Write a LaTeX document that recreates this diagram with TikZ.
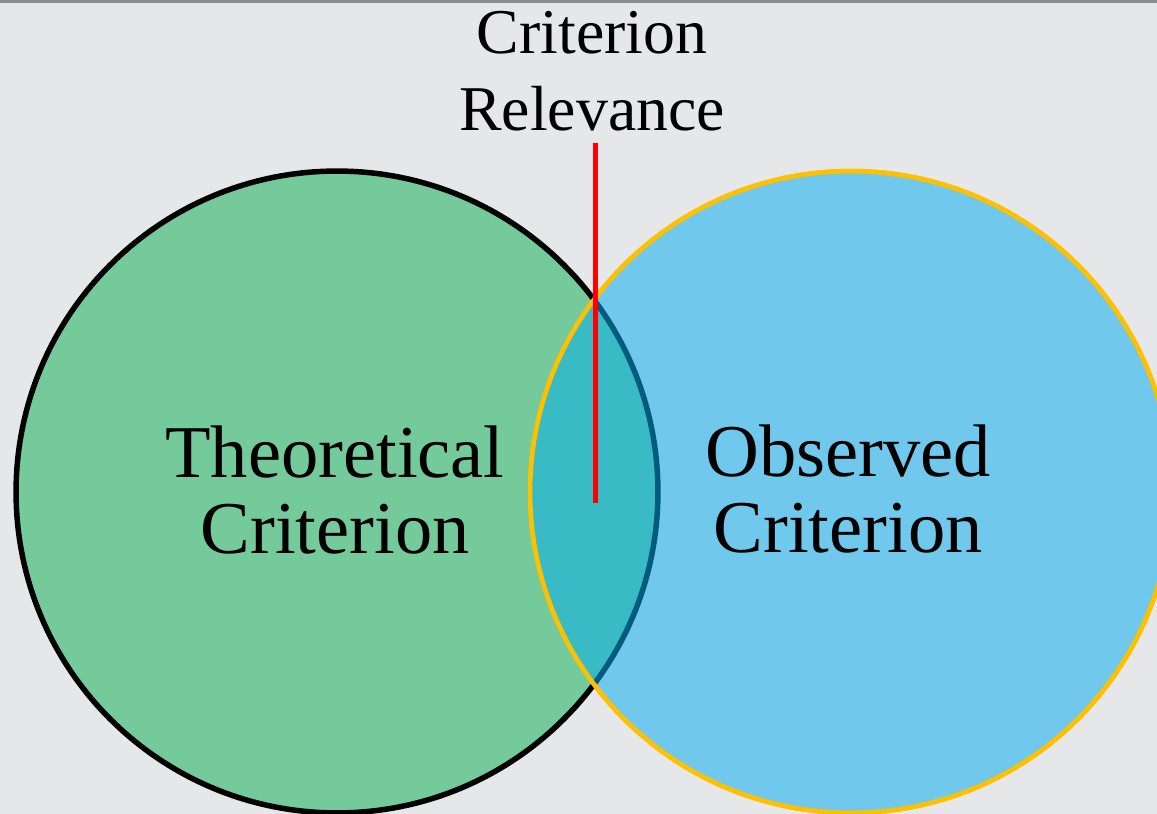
\documentclass[tikz,border=0pt]{standalone}
\usepackage{fontspec}
\setmainfont{Liberation Serif}
\usepackage{tikz}
\usetikzlibrary{positioning}

\definecolor{bgGray}{HTML}{E6E7E9}
\definecolor{rimGray}{HTML}{8E8E8E}
\definecolor{theoGreen}{HTML}{74CA9A}
\definecolor{obsBlue}{HTML}{70C9EC}
\definecolor{lensTeal}{HTML}{38BBC4}
\definecolor{lensEdge}{HTML}{005B7F}
\definecolor{obsYellow}{HTML}{FFC000}

\tikzset{
  theoCircle/.style={fill=theoGreen, draw=black, line width=0.11cm},
  obsCircle/.style={fill=obsBlue, draw=obsYellow, line width=0.09cm},
  bigLabel/.style={align=center, inner sep=0pt, font=\fontsize{42.4}{43.5}\selectfont},
  topLabel/.style={align=center, inner sep=0pt, font=\fontsize{36.3}{43.7}\selectfont}
}

\begin{document}
\begin{tikzpicture}[x=0.02cm, y=-0.02cm]
  \useasboundingbox (0,0) rectangle (1157,814);
  \clip (0,0) rectangle (1157,814);
  % Background
  \fill[bgGray] (0,0) rectangle (1157,814);
  \draw[rimGray, line width=0.06cm] (0,1.5) -- (1157,1.5);

  % Circles
  \coordinate (cTheo) at (337,492);
  \coordinate (cObs) at (851,492);
  \draw[theoCircle] (cTheo) circle[radius=6.42cm];
  \draw[obsCircle] (cObs) circle[radius=6.42cm];

  % Overlap
  \begin{scope}
    \clip (cTheo) circle[radius=6.42cm];
    \fill[lensTeal] (cObs) circle[radius=6.42cm];
  \end{scope}
  \begin{scope}
    \clip (cObs) circle[radius=6.42cm];
    \draw[lensEdge, line width=0.11cm] (cTheo) circle[radius=6.42cm];
  \end{scope}
  \draw[obsYellow, line width=0.09cm] (cObs) circle[radius=6.42cm];

  % Labels
  \node[bigLabel] (theo) at (335,490) {Theoretical\\Criterion};
  \node[bigLabel] (obs) at (848,489) {Observed\\Criterion};
  \node[topLabel] (relevance) at (592,71) {Criterion\\Relevance};

  % Relevance marker
  \coordinate (relTop) at (595,143);
  \coordinate (relEnd) at (595,503);
  \draw[red, line width=0.1cm] (relTop) -- (relEnd);
\end{tikzpicture}
\end{document}
